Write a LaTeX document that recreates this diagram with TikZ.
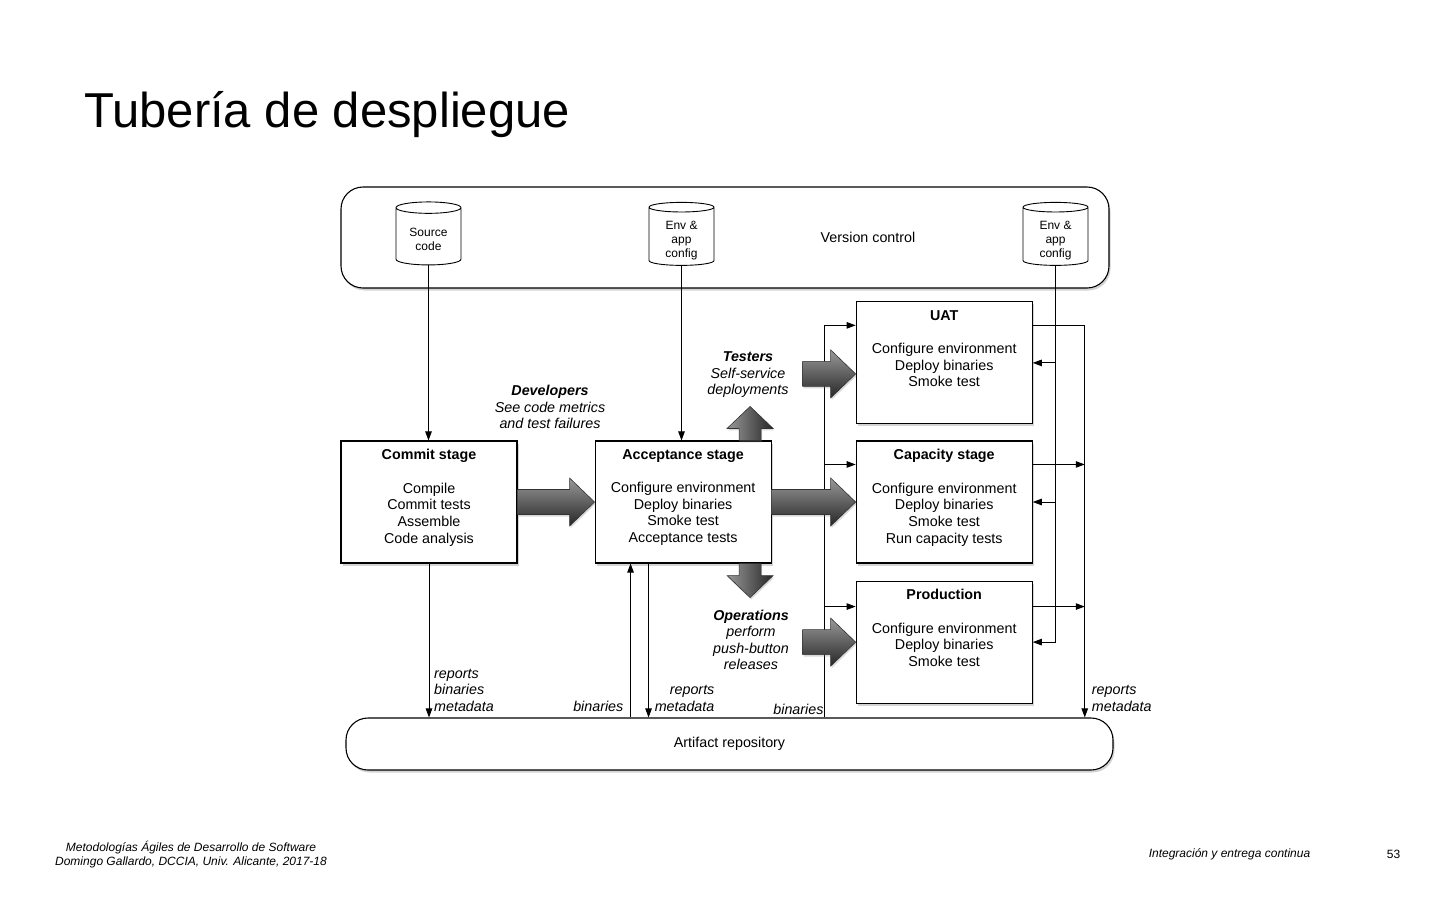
\documentclass[tikz,border=0pt]{standalone}
\usepackage{fontspec}
\setmainfont{Liberation Sans}
\usetikzlibrary{positioning, arrows.meta, calc, shapes.geometric, shadows}

% text of a stage box: bold heading, blank line, steps
\newcommand{\stagebody}[2]{\parbox[c][122pt][t]{176pt}{\centering\vspace*{8.5pt}\textbf{#1}\\[16.5pt]#2}}
% text of a store, set a little low in the cylinder
\newcommand{\dbtext}[1]{\raisebox{-4pt}[\height][\depth]{\begin{tabular}{@{}c@{}}#1\end{tabular}}}
% wide grey arrows (tail, tip)
\newcommand{\fatright}[2]{%
  \path[fat] ($(#1)+(0,-12.5)$) -- ($(#2)+(-25,-12.5)$) -- ($(#2)+(-25,-24)$) -- (#2)
    -- ($(#2)+(-25,24)$) -- ($(#2)+(-25,12.5)$) -- ($(#1)+(0,12.5)$) -- cycle;}
\newcommand{\fatvert}[3]{%
  \path[fatv] ($(#1)+(-11,0)$) -- ($(#2)+(-11,#3)$) -- ($(#2)+(-23,#3)$) -- (#2)
    -- ($(#2)+(23,#3)$) -- ($(#2)+(11,#3)$) -- ($(#1)+(11,0)$) -- cycle;}

\begin{document}
\begin{tikzpicture}[x=1pt, y=-1pt, >={Triangle[length=9pt,width=6.5pt]},
    box/.style={draw, line width=1.1pt, fill=white,
      drop shadow={shadow xshift=1.5pt, shadow yshift=-2.5pt, opacity=.35}},
    stage/.style={box, inner sep=0pt, font=\fontsize{14.3}{16.7}\selectfont},
    store/.style={box, rounded corners=22pt, font=\fontsize{14.3}{16.7}\selectfont},
    db/.style={draw, line width=.9pt, fill=white, cylinder, shape border rotate=90,
      aspect=.3, minimum width=65pt, minimum height=63pt, inner sep=0pt,
      font=\fontsize{12}{14}\selectfont},
    flow/.style={line width=.9pt},
    tag/.style={font=\fontsize{14.3}{16.5}\selectfont\itshape, inner sep=0pt},
    who/.style={tag, align=center},
    fat/.style={draw=black!80, line width=.6pt, top color=black!40, bottom color=black!85,
      drop shadow={shadow xshift=1pt, shadow yshift=-2pt, opacity=.3}},
    fatv/.style={draw=black!80, line width=.6pt, left color=black!40, right color=black!85,
      drop shadow={shadow xshift=1pt, shadow yshift=-2pt, opacity=.3}},
    foot/.style={font=\fontsize{12}{14}\selectfont\itshape, inner sep=0pt}]

  \useasboundingbox (0,0) rectangle (1440,900);

  \node[anchor=base west, inner sep=0pt, font=\fontsize{49}{55}\selectfont] (title) at (84,127) {Tubería de despliegue};

  % version control
  \node[store, minimum width=768pt, minimum height=101pt] (vc) at (725,237.5) {};
  \node[font=\fontsize{14.3}{16.7}\selectfont] (vctext) at (868,237) {Version control};
  \node[db] (src) at (428.5,236.5) {\dbtext{Source\\code}};
  \node[db] (envA) at (681.5,236.5) {\dbtext{Env \&\\app\\config}};
  \node[db] (envB) at (1055.5,236.5) {\dbtext{Env \&\\app\\config}};

  % stages
  \node[stage] (commit) at (429,502) {\stagebody{Commit stage}{Compile\\Commit tests\\Assemble\\Code analysis}};
  \node[stage, right=77pt of commit] (accept) {\stagebody{Acceptance stage}{Configure environment\\Deploy binaries\\Smoke test\\Acceptance tests}};
  \node[stage, right=84pt of accept] (cap) {\stagebody{Capacity stage}{Configure environment\\Deploy binaries\\Smoke test\\Run capacity tests}};
  \node[stage, above=16pt of cap] (uat) {\stagebody{UAT}{Configure environment\\Deploy binaries\\Smoke test}};
  \node[stage, below=17pt of cap] (prod) {\stagebody{Production}{Configure environment\\Deploy binaries\\Smoke test}};

  \node[store, minimum width=767pt, minimum height=52pt] (repo) at (729.5,744) {Artifact repository};

  % thin connectors
  \coordinate (binin) at ([xshift=36pt]accept.south west);
  \coordinate (repout) at ([xshift=54pt]accept.south west);
  \coordinate (feed) at ([xshift=-31pt]uat.west);
  \coordinate (back) at ([xshift=52pt]uat.east);
  \coordinate (uatin) at ([yshift=-24pt]uat.north west);
  \coordinate (capin) at ([yshift=-24pt]cap.north west);
  \coordinate (prodin) at ([yshift=-26pt]prod.north west);
  \coordinate (uatout) at ([yshift=-24pt]uat.north east);
  \coordinate (capout) at ([yshift=-24pt]cap.north east);
  \coordinate (prodout) at ([yshift=-26pt]prod.north east);

  \draw[flow, ->] (src.south) -- (src.south |- commit.north);
  \draw[flow, ->] (envA.south) -- (envA.south |- accept.north);
  \draw[flow, ->] (commit.south) -- (commit.south |- repo.north);
  \draw[flow, ->] (binin |- repo.north) -- (binin);
  \draw[flow, ->] (repout) -- (repout |- repo.north);

  \draw[flow, ->] (feed |- repo.north) |- (uatin);
  \draw[flow, ->] (feed |- capin) -- (capin);
  \draw[flow, ->] (feed |- prodin) -- (prodin);

  \draw[flow, ->] (envB.south) |- (prod.east);
  \draw[flow, ->] (envB.south |- uat.east) -- (uat.east);
  \draw[flow, ->] (envB.south |- cap.east) -- (cap.east);

  \draw[flow, ->] (uatout) -| (back |- repo.north);
  \draw[flow, ->] (capout) -- (back |- capout);
  \draw[flow, ->] (prodout) -- (back |- prodout);

  % labels on the thin connectors
  \node[tag, align=left, anchor=south west, xshift=5pt, yshift=6pt] (cmtout) at (commit.south |- repo.north) {reports\\binaries\\metadata};
  \node[tag, anchor=south east, xshift=-7pt, yshift=6pt] (accin) at (binin |- repo.north) {binaries};
  \node[tag, align=right, anchor=south west, xshift=6pt, yshift=6pt] (accout) at (repout |- repo.north) {reports\\metadata};
  \node[tag, anchor=south east, xshift=-1pt, yshift=3pt] (feedtag) at (feed |- repo.north) {binaries};
  \node[tag, align=left, anchor=south west, xshift=7pt, yshift=6pt] (backtag) at (back |- repo.north) {reports\\metadata};

  % wide arrows
  \coordinate (testtip) at ([yshift=-11pt]uat.west);
  \coordinate (testtail) at ([xshift=-53pt]testtip);
  \coordinate (opstail) at ([xshift=-53pt]prod.west);
  \coordinate (uptail) at ([xshift=67pt]accept.north);
  \coordinate (uptip) at ([yshift=34pt]uptail);
  \coordinate (dntail) at ([xshift=67pt]accept.south);
  \coordinate (dntip) at ([yshift=-34pt]dntail);

  \fatright{commit.east}{accept.west}
  \fatright{accept.east}{cap.west}
  \fatright{testtail}{testtip}
  \fatright{opstail}{prod.west}
  \fatvert{uptail}{uptip}{22}
  \fatvert{dntail}{dntip}{-22}

  \node[who] (dev) at (550,407) {\textbf{Developers}\\See code metrics\\and test failures};
  \node[who] (testers) at (748,375) {\textbf{Testers}\\Self-service\\deployments};
  \node[who] (ops) at (751,640) {\textbf{Operations}\\perform\\push-button\\releases};

  % footer
  \node[foot, align=center] (course) at (191,855) {Metodologías Ágiles de Desarrollo de Software\\Domingo Gallardo, DCCIA, Univ. Alicante, 2017-18};
  \node[foot] (topic) at (1229.5,854) {Integración y entrega continua};
  \node[foot, font=\fontsize{12}{14}\selectfont] (page) at (1393.5,854) {53};
\end{tikzpicture}
\end{document}
